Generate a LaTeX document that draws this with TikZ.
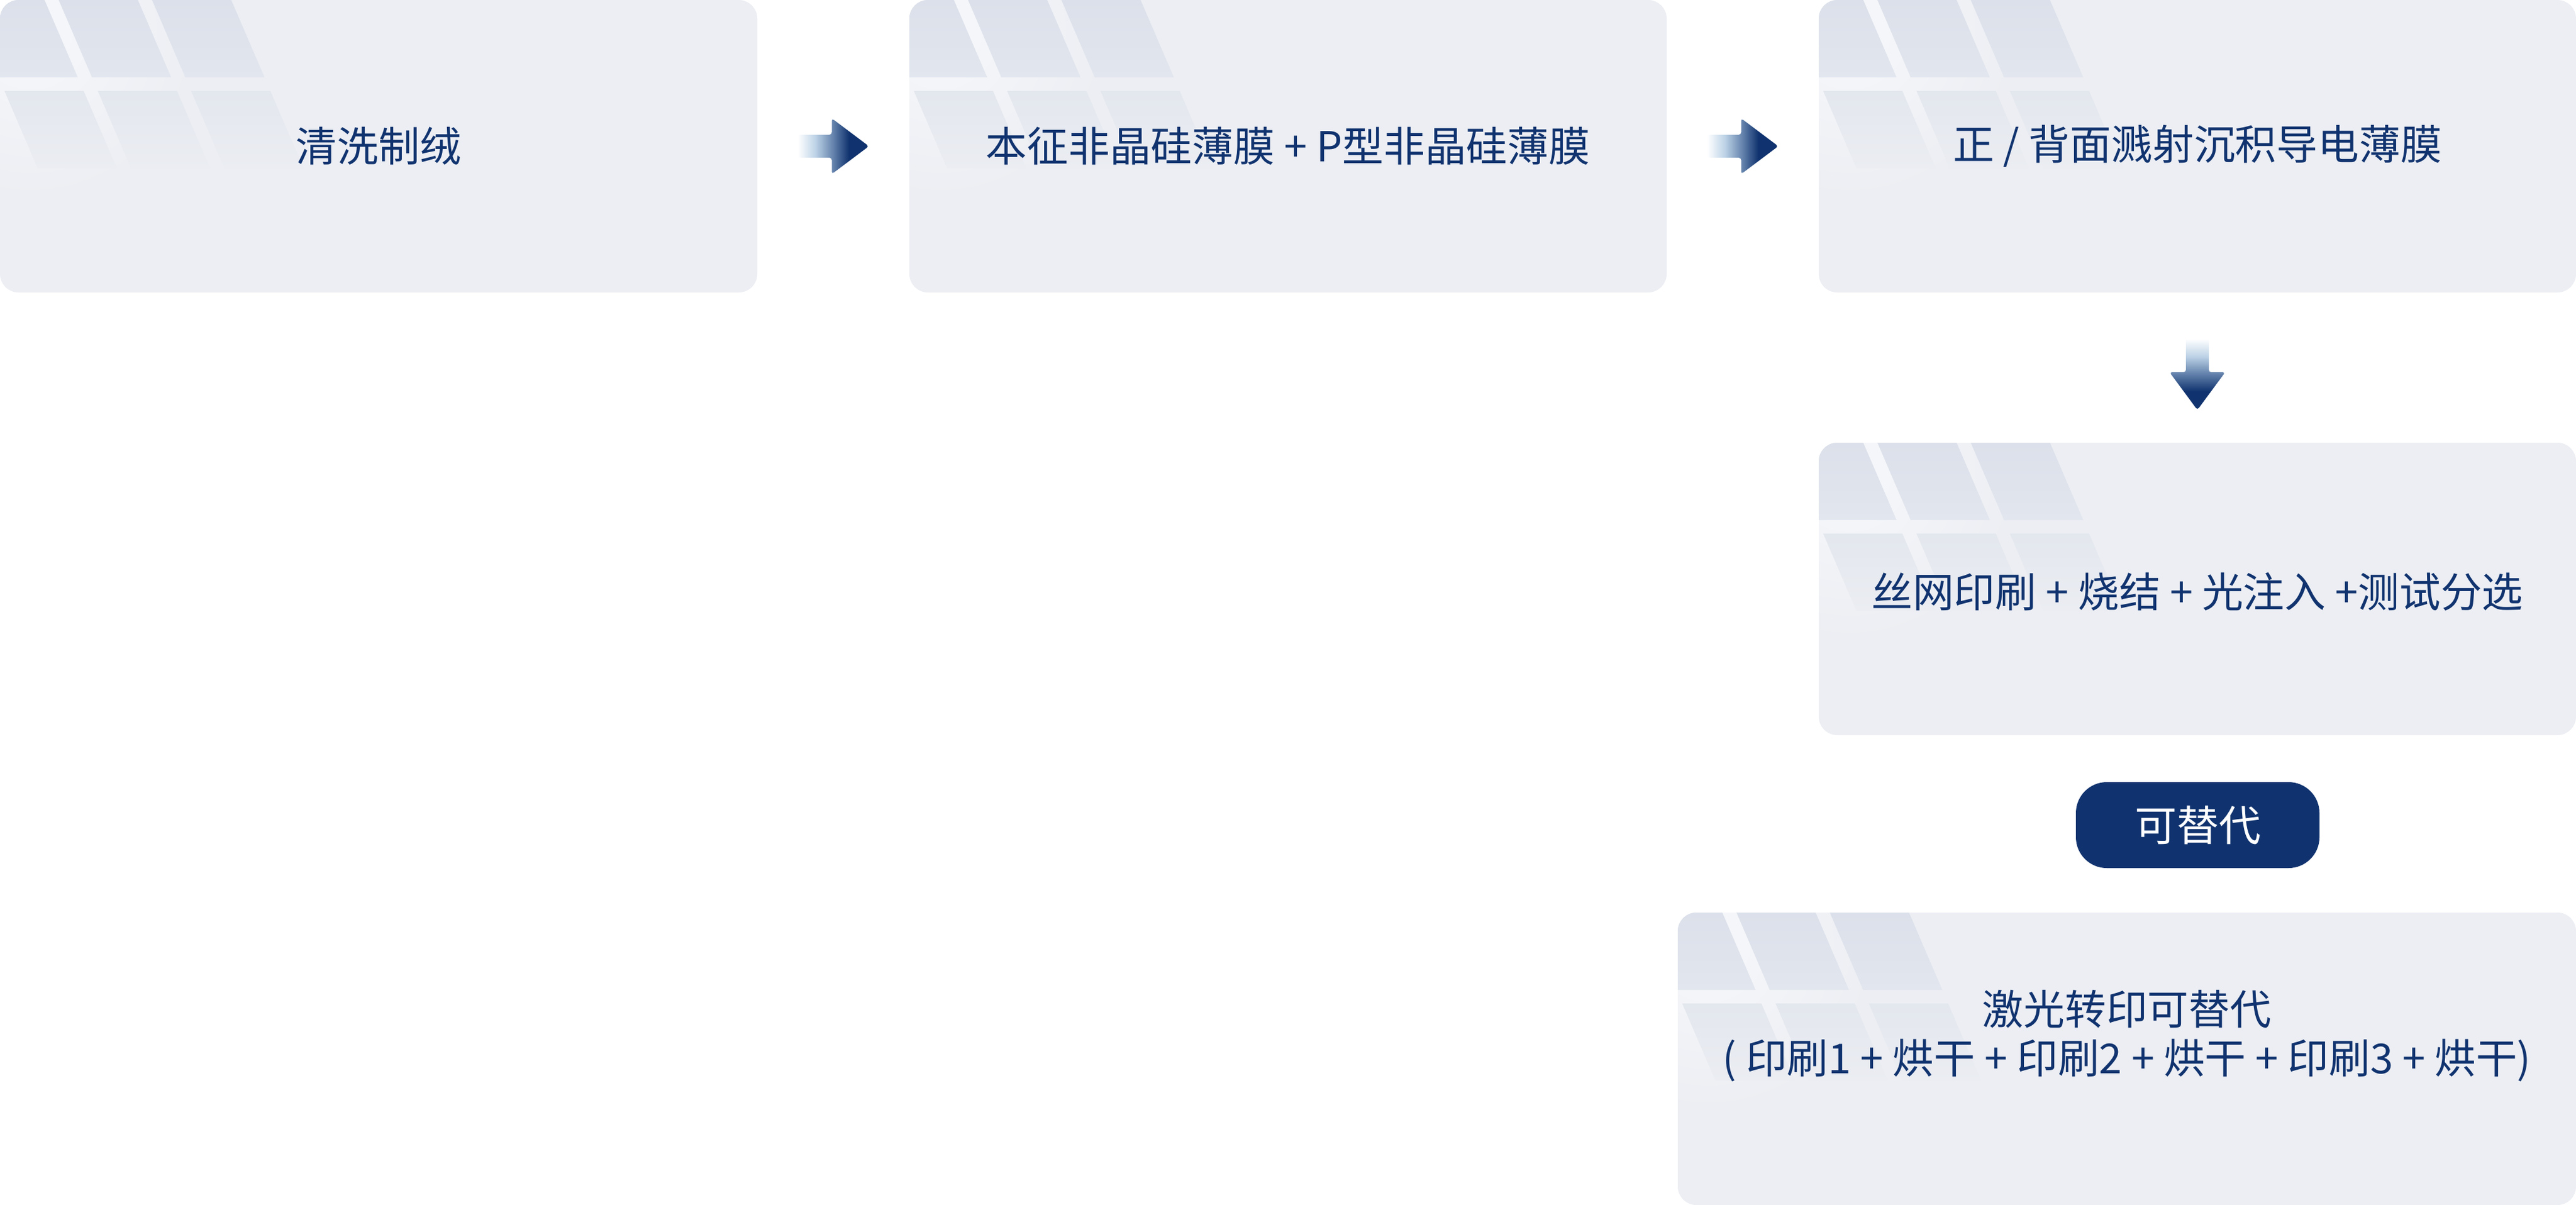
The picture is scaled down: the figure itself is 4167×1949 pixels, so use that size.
\documentclass[tikz,border=0pt]{standalone}
\usepackage{fontspec}
\newfontfamily\cjk{Noto Sans CJK SC}
\usetikzlibrary{calc}
\definecolor{boxcol}{HTML}{ECEEF3}
\definecolor{ctop}{HTML}{DBE0EA}
\definecolor{cmid}{HTML}{E2E6EE}
\definecolor{cmid2}{HTML}{E3E7EE}
\definecolor{cbot}{HTML}{EBEDF2}
\definecolor{glosscol}{HTML}{F7F8FB}
\definecolor{navy}{HTML}{10336F}
\definecolor{amid}{HTML}{6A88B0}
\definecolor{alight}{HTML}{BCD2E6}
\pgfdeclareverticalshading{cellsh}{100bp}{color(0bp)=(cbot); color(25bp)=(cbot); color(47.8bp)=(cmid2); color(51.9bp)=(cmid); color(75bp)=(ctop); color(100bp)=(ctop)}
\pgfdeclarehorizontalshading{harrsh}{100bp}{color(0bp)=(white); color(25bp)=(white); color(37.5bp)=(alight); color(49bp)=(amid); color(61bp)=(navy); color(75bp)=(navy); color(100bp)=(navy)}
\pgfdeclareverticalshading{varrsh}{100bp}{color(0bp)=(navy); color(25bp)=(navy); color(38bp)=(navy); color(51.5bp)=(amid); color(62.5bp)=(alight); color(75bp)=(white); color(100bp)=(white)}
\newcommand\solarcells[1]{%
  \begin{scope}
    \clip[rounded corners=15pt] (#1.north west) rectangle (#1.south east);
    \begin{scope}[shift={(#1.north west)}]
      \shade[inner color=glosscol, outer color=boxcol] (50,50) circle (270);
      \shade[shading=cellsh] foreach \k in {0,1,2}{ foreach \ya/\yb in {-2/125,147/272}{
        ({-56+151*\k+0.43*\ya},\ya) -- ({72+151*\k+0.43*\ya},\ya) --
        ({72+151*\k+0.43*\yb},\yb) -- ({-56+151*\k+0.43*\yb},\yb) -- cycle } };
    \end{scope}
  \end{scope}}
\newcommand\harrowat[1]{%
  \begin{scope}[shift={(#1)}]
    \shade[shading=harrsh, rounded corners=2pt]
      (-57.5,-18.5) -- (-2.5,-18.5) -- (-2.5,-45) -- (57.5,0) -- (-2.5,45) -- (-2.5,18.5) -- (-57.5,18.5) -- cycle;
  \end{scope}}
\newcommand\varrowat[1]{%
  \begin{scope}[shift={(#1)}]
    \shade[shading=varrsh, rounded corners=2pt]
      (-18.5,-57.5) -- (18.5,-57.5) -- (18.5,-3.5) -- (45,-3.5) -- (0,57.5) -- (-45,-3.5) -- (-18.5,-3.5) -- (-18.5,-57.5) -- cycle;
  \end{scope}}
\begin{document}
\begin{tikzpicture}[x=0.5pt,y=-0.5pt,
  box/.style={draw=none, fill=boxcol, rounded corners=15pt, minimum width=612.5pt, minimum height=236.5pt, inner sep=0pt, outer sep=0pt},
  txt/.style={font=\cjk\fontsize{33.4pt}{39.75pt}\selectfont, text=navy, inner sep=0pt, align=center},
  pill/.style={fill=navy, rounded corners=25pt, minimum width=197pt, minimum height=69.5pt, inner sep=0pt, text=white, font=\cjk\fontsize{34pt}{40pt}\selectfont}]
\useasboundingbox (0,0) rectangle (4167,1949);
\fill[white] (0,0) rectangle (4167,1949);
% boxes
\node[box] (b1) at (612.5,236.5) {};
\node[box] (b2) at (2083.5,236.5) {};
\node[box] (b3) at (3554.5,236.5) {};
\node[box] (b4) at (3554.5,952.5) {};
\node[box, minimum width=726.5pt] (b5) at (3440.5,1712.5) {};
\solarcells{b1}
\solarcells{b2}
\solarcells{b3}
\solarcells{b4}
\solarcells{b5}
% texts
\node[txt] (t1) at (b1.center) {清洗制绒};
\node[txt] (t2) at (b2.center) {本征非晶硅薄膜 + P型非晶硅薄膜};
\node[txt] (t3) at (b3.center) {正 / 背面溅射沉积导电薄膜};
\node[txt] (t4) at ($(b4.center)+(0,5)$) {丝网印刷 + 烧结 + 光注入 +测试分选};
\node[txt] (t5) at ($(b5.center)+(0,-37)$) {激光转印可替代\\( 印刷1 + 烘干 + 印刷2 + 烘干 + 印刷3 + 烘干)};
\node[pill] (p1) at (3555,1334.5) {可替代};
% arrows
\coordinate (a1) at ($(b1.east)!0.5!(b2.west)$);
\coordinate (a2) at ($(b2.east)!0.5!(b3.west)$);
\coordinate (a3) at ($(b3.south)!0.5!(b4.north)+(0,11)$);
\harrowat{a1}
\harrowat{a2}
\varrowat{a3}
\end{tikzpicture}
\end{document}
